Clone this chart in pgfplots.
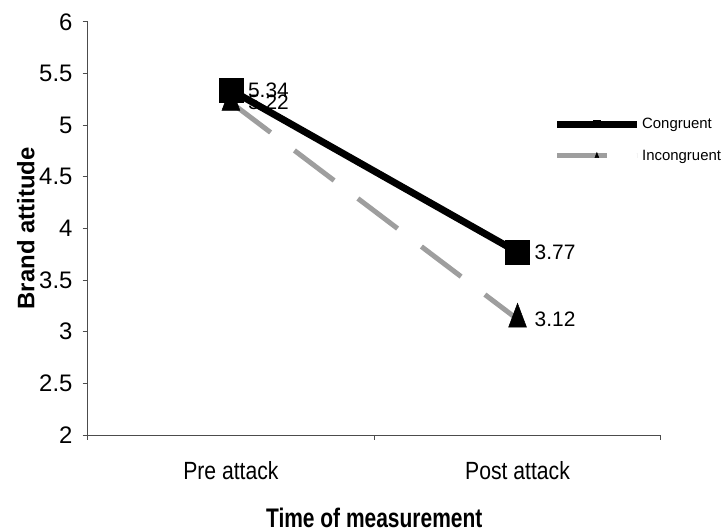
\documentclass[border=0pt]{standalone}
\usepackage{fontspec}
\setmainfont{Liberation Sans}
\newfontfamily\narrowfont[FakeStretch=0.85]{Liberation Sans}
\newfontfamily\titlefont[FakeStretch=0.78]{Liberation Sans}
\usepackage{pgfplots}
\pgfplotsset{compat=1.18}
\begin{document}
\begin{tikzpicture}
\begin{axis}[
  scale only axis,
  width=576pt, height=415pt,
  xmin=0, xmax=2, ymin=2, ymax=6,
  clip=false,
  axis lines=left,
  axis line style={-, black!70, line width=0.8pt},
  tick align=outside,
  major tick length=5pt,
  tick style={black!70, line width=0.8pt},
  ytick={2,2.5,...,6},
  yticklabel style={font=\fontsize{24}{28}\selectfont, anchor=east, inner sep=0pt, xshift=-10pt},
  /pgf/number format/assume math mode=true,
  xtick={0,1,2},
  xticklabels={},
  extra x ticks={0.5,1.5},
  extra x tick labels={Pre attack, Post attack},
  extra x tick style={major tick length=0pt},
  xticklabel style={font=\narrowfont\fontsize{25}{28}\selectfont, anchor=center, inner sep=0pt, yshift=-36pt},
  ylabel={\bfseries Brand attitude},
  ylabel style={at={(axis description cs:-0.1075,0.5)}, anchor=center, font=\fontsize{24}{28}\selectfont},
  xlabel={\bfseries Time of measurement},
  xlabel style={at={(axis description cs:0.5,0)}, yshift=-83pt, anchor=center, font=\titlefont\fontsize{27}{30}\selectfont},
  legend style={at={(rel axis cs:0.8125,0.772)}, anchor=north west, draw=none, fill=none,
    font=\fontsize{15}{18}\selectfont, row sep=16pt, inner sep=0pt},
  legend cell align=left,
  reverse legend,
  legend image code/.code={\draw[mark repeat=2, mark phase=2, #1, mark size=3.5pt] plot coordinates {(0pt,0pt) (40pt,0pt) (80pt,0pt)};},
  nodes near coords,
  point meta=explicit symbolic,
  every node near coord/.append style={anchor=west, inner sep=0pt, xshift=17pt, font=\fontsize{21}{24}\selectfont, text=black},
]
\addplot[black!38, line width=5pt, dash pattern=on 50pt off 30pt, mark=triangle*, mark size=16pt,
  mark options={solid, fill=black, draw=black, line width=0.5pt, xscale=0.65}]
  coordinates {(0.5,5.22) [5.22] (1.5,3.12) [3.12]};
\addlegendentry{Incongruent}
\addplot[black, line width=7pt, mark=square*, mark size=12pt,
  mark options={solid, fill=black, draw=black, line width=0.5pt}]
  coordinates {(0.5,5.34) [5.34] (1.5,3.77) [3.77]};
\addlegendentry{Congruent}
\path (rel axis cs:0,0) ++(-88pt,-97pt) rectangle ++(723pt,534pt);
\end{axis}
\end{tikzpicture}
\end{document}
